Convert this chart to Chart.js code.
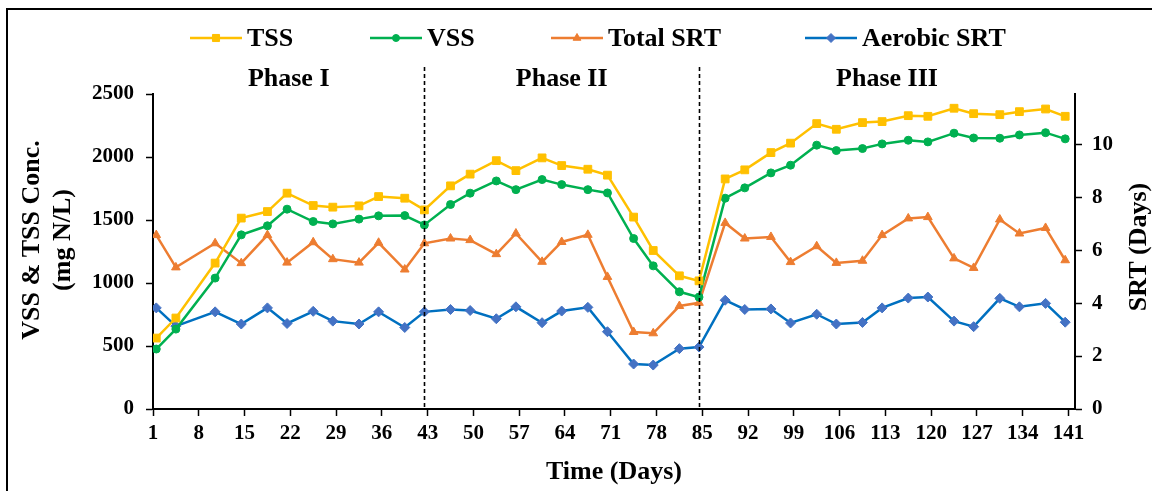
<!DOCTYPE html>
<html>
<head>
<meta charset="utf-8">
<script src="https://cdn.jsdelivr.net/npm/chart.js@4/dist/chart.umd.min.js"></script>
<style>
  html, body { margin: 0; padding: 0; background: #fff; }
  canvas { display: block; }
</style>
</head>
<body>
<canvas id="chart" width="1152" height="491"></canvas>
<script>
// sampling days
const days = [1, 4, 10, 14, 18, 21, 25, 28, 32, 35, 39, 42,
  46, 49, 53, 56, 60, 63, 67, 70, 74, 77, 81, 84,
  88, 91, 95, 98, 102, 105, 109, 112, 116, 119, 123, 126, 130, 133, 137, 140];

// mg N/L
const tss = [563, 722, 1158, 1515, 1567, 1713, 1615, 1602, 1612, 1686, 1673, 1580,
  1771, 1864, 1971, 1892, 1993, 1932, 1903, 1856, 1523, 1258, 1057, 1017,
  1826, 1898, 2035, 2110, 2265, 2220, 2273, 2281, 2328, 2323, 2387, 2344, 2336, 2360, 2381, 2323];
const vss = [476, 634, 1039, 1382, 1454, 1586, 1488, 1469, 1507, 1533, 1535, 1461,
  1623, 1713, 1810, 1741, 1821, 1781, 1741, 1715, 1353, 1136, 930, 888,
  1673, 1755, 1874, 1935, 2094, 2051, 2067, 2104, 2133, 2120, 2189, 2151, 2149, 2175, 2193, 2144];

// days
const totalSrt = [6.57, 5.35, 6.26, 5.51, 6.57, 5.53, 6.30, 5.66, 5.53, 6.28, 5.27, 6.26,
  6.44, 6.38, 5.85, 6.63, 5.56, 6.31, 6.58, 4.99, 2.91, 2.86, 3.89, 4.01,
  7.03, 6.44, 6.50, 5.55, 6.15, 5.52, 5.60, 6.57, 7.20, 7.25, 5.69, 5.33, 7.16, 6.63, 6.84, 5.62];
const aerobicSrt = [3.82, 3.13, 3.67, 3.21, 3.82, 3.23, 3.69, 3.32, 3.21, 3.67, 3.08, 3.67,
  3.76, 3.72, 3.41, 3.86, 3.26, 3.70, 3.84, 2.92, 1.70, 1.66, 2.28, 2.34,
  4.11, 3.76, 3.78, 3.25, 3.58, 3.21, 3.27, 3.82, 4.19, 4.23, 3.32, 3.11, 4.18, 3.86, 3.99, 3.28];

const xTickDays = [1, 8, 15, 22, 29, 36, 43, 50, 57, 64, 71, 78, 85, 92, 99, 106, 113, 120, 127, 134, 141];
const srtTicks = [0, 2, 4, 6, 8, 10];
const phaseBreaks = [42, 84];
const phaseNames = ['Phase I', 'Phase II', 'Phase III'];
const leftTitle = ['VSS & TSS Conc.', '(mg N/L)'];
const rightTitle = 'SRT (Days)';

const FONT = "'Liberation Serif', 'Times New Roman', serif";

function pts(values) {
  return days.map((d, i) => ({ x: d, y: values[i] }));
}

function series(label, values, axis, lineColor, markColor, style, radius) {
  return {
    label: label,
    data: pts(values),
    yAxisID: axis,
    borderColor: lineColor,
    borderWidth: 2.5,
    pointStyle: style,
    pointRadius: radius,
    pointBackgroundColor: markColor,
    pointBorderColor: markColor,
    pointBorderWidth: 1,
    tension: 0
  };
}

const datasets = [
  series('TSS', tss, 'y', '#FFC000', '#FFC000', 'rect', 5.5),
  series('VSS', vss, 'y', '#00B050', '#00B050', 'circle', 4),
  series('Total SRT', totalSrt, 'y1', '#ED7D31', '#ED7D31', 'triangle', 5),
  series('Aerobic SRT', aerobicSrt, 'y1', '#0070C0', '#4472C4', 'rectRot', 5)
];

function vText(ctx, text, x, y) {
  ctx.save();
  ctx.translate(x, y);
  ctx.rotate(-Math.PI / 2);
  ctx.fillText(text, 0, 0);
  ctx.restore();
}

// frame, phase separators, phase names, y titles and the legend
const extras = {
  id: 'extras',
  afterDraw(chart) {
    const { ctx, chartArea, scales } = chart;
    const x = scales.x;
    ctx.save();

    ctx.strokeStyle = '#000';
    ctx.lineWidth = 2;
    ctx.beginPath();
    ctx.moveTo(7, 491);
    ctx.lineTo(7, 9);
    ctx.lineTo(1152, 9);
    ctx.stroke();

    ctx.lineWidth = 1.6;
    ctx.setLineDash([4, 3]);
    phaseBreaks.forEach(d => {
      const px = Math.round(x.getPixelForValue(d)) + 0.5;
      ctx.beginPath();
      ctx.moveTo(px, 67);
      ctx.lineTo(px, chartArea.bottom);
      ctx.stroke();
    });
    ctx.setLineDash([]);

    ctx.fillStyle = '#000';
    ctx.font = 'bold 26px ' + FONT;
    ctx.textAlign = 'center';
    ctx.textBaseline = 'middle';
    const edges = [chartArea.left].concat(phaseBreaks.map(d => x.getPixelForValue(d)), [chartArea.right]);
    phaseNames.forEach((name, i) => {
      ctx.fillText(name, (edges[i] + edges[i + 1]) / 2, 79);
    });

    // axis titles, both read bottom to top
    vText(ctx, leftTitle[0], 32, 240);
    vText(ctx, leftTitle[1], 63, 240);
    vText(ctx, rightTitle, 1139, 247);

    // legend
    ctx.font = 'bold 26px ' + FONT;
    ctx.textAlign = 'left';
    const legendX = [190, 370, 551, 805];
    const ly = 38;
    chart.data.datasets.forEach((ds, i) => {
      const lx = legendX[i];
      ctx.strokeStyle = ds.borderColor;
      ctx.lineWidth = 2.5;
      ctx.beginPath();
      ctx.moveTo(lx, ly);
      ctx.lineTo(lx + 52, ly);
      ctx.stroke();
      ctx.fillStyle = ds.pointBackgroundColor;
      ctx.strokeStyle = ds.pointBorderColor;
      ctx.lineWidth = 1;
      Chart.helpers.drawPoint(ctx, { pointStyle: ds.pointStyle, radius: ds.pointRadius - 0.5, rotation: 0, borderWidth: 1 }, lx + 26, ly);
      ctx.fillStyle = '#000';
      ctx.fillText(ds.label, lx + 57, ly + 1);
    });

    ctx.restore();
  }
};

const tickFont = { family: FONT, size: 21, weight: 'bold' };
const titleFont = { family: FONT, size: 26, weight: 'bold' };
const axisGrid = { drawOnChartArea: false, drawTicks: true, tickLength: 7, color: '#000', tickWidth: 1.5 };
const axisBorder = { color: '#000', width: 2 };

new Chart(document.getElementById('chart'), {
  type: 'line',
  data: { datasets: datasets },
  options: {
    responsive: false,
    animation: false,
    devicePixelRatio: 1,
    layout: { padding: { top: 94, left: 0, right: 0, bottom: 0 } },
    plugins: { legend: { display: false }, tooltip: { enabled: false } },
    scales: {
      x: {
        type: 'linear',
        min: 0.5,
        max: 141.5,
        afterBuildTicks: s => { s.ticks = xTickDays.map(d => ({ value: d - 0.5 })); },
        afterFit: s => { s.height = 82; },
        grid: axisGrid,
        border: axisBorder,
        ticks: { font: tickFont, color: '#000', padding: 5, autoSkip: false, maxRotation: 0,
          callback: v => String(v + 0.5) },
        title: { display: true, text: 'Time (Days)', font: titleFont, color: '#000', padding: { top: 0, bottom: 3 } }
      },
      y: {
        position: 'left',
        min: 0,
        max: 2500,
        afterFit: s => { s.width = 153; },
        grid: axisGrid,
        border: axisBorder,
        ticks: { font: tickFont, color: '#000', stepSize: 500, padding: 12, callback: v => String(v) }
      },
      y1: {
        position: 'right',
        min: 0,
        max: 11.9,
        afterBuildTicks: s => { s.ticks = srtTicks.map(v => ({ value: v })); },
        afterFit: s => { s.width = 77; },
        grid: axisGrid,
        border: axisBorder,
        ticks: { font: tickFont, color: '#000', padding: 10, callback: v => String(v) }
      }
    }
  },
  plugins: [extras]
});
</script>
</body>
</html>
